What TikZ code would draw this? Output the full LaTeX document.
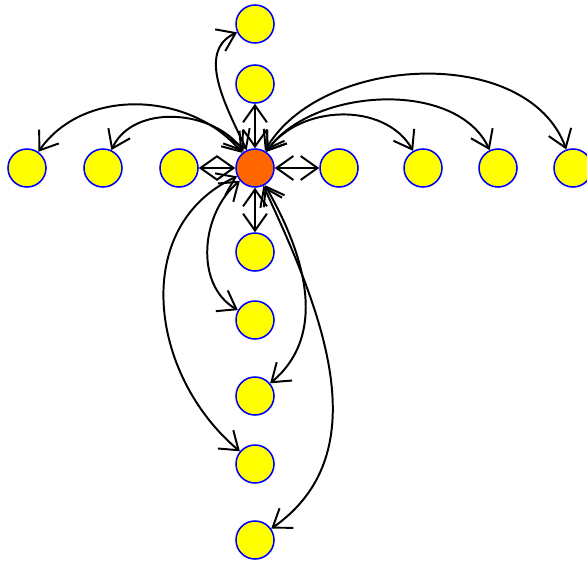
\documentclass[tikz,border=0pt]{standalone}
\usetikzlibrary{arrows.meta}

\definecolor{hubfill}{RGB}{255,102,0}
\definecolor{vertexfill}{RGB}{255,255,0}

\begin{document}
\begin{tikzpicture}[
    vertex/.style={circle,fill=vertexfill,draw=blue,line width=1.1pt,minimum size=0.95cm,inner sep=0pt},
    hub/.style={vertex,fill=hubfill},
    link/.style={<->,line width=1.4pt},
    >={Straight Barb[length=12pt,width=17pt]}
]

\useasboundingbox (-6.375,-9.825) rectangle (8.3,4.2);

\node[hub] (c) at (0,0) {};

\node[vertex] (t1) at (0,2.1) {};
\node[vertex] (t2) at (0,3.6) {};

\node[vertex] (l1) at (-1.9,0) {};
\node[vertex] (l2) at (-3.8,0) {};
\node[vertex] (l3) at (-5.7,0) {};

\node[vertex] (r1) at (2.1,0) {};
\node[vertex] (r2) at (4.2,0) {};
\node[vertex] (r3) at (6.075,0) {};
\node[vertex] (r4) at (7.95,0) {};

\node[vertex] (b1) at (0,-2.1) {};
\node[vertex] (b2) at (0,-3.8) {};
\node[vertex] (b3) at (0,-5.7) {};
\node[vertex] (b4) at (0,-7.4) {};
\node[vertex] (b5) at (0,-9.3) {};

% short edges
\draw[link] (c) -- (t1);
\draw[link] (c) -- (l1);
\draw[link] (c) -- (r1);
\draw[link] (c) -- (b1);

% long edges
\draw[link] (c) to[out=115,in=205] (t2);
\draw[link] (c) to[out=125,in=65] (l2);
\draw[link] (c) to[out=130,in=55] (l3);
\draw[link] (c) to[out=55,in=120] (r2);
\draw[link] (c) to[out=55,in=115,looseness=0.9] (r3);
\draw[link] (c) to[out=60,in=110,looseness=0.95] (r4);
\draw[link] (c) to[out=220,in=150] (b2);
\draw[link] (c) to[out=-60,in=40] (b3);
\draw[link] (c) to[out=205,in=140,looseness=1.1] (b4);
\draw[link] (c) to[out=-65,in=35] (b5);

\end{tikzpicture}
\end{document}
